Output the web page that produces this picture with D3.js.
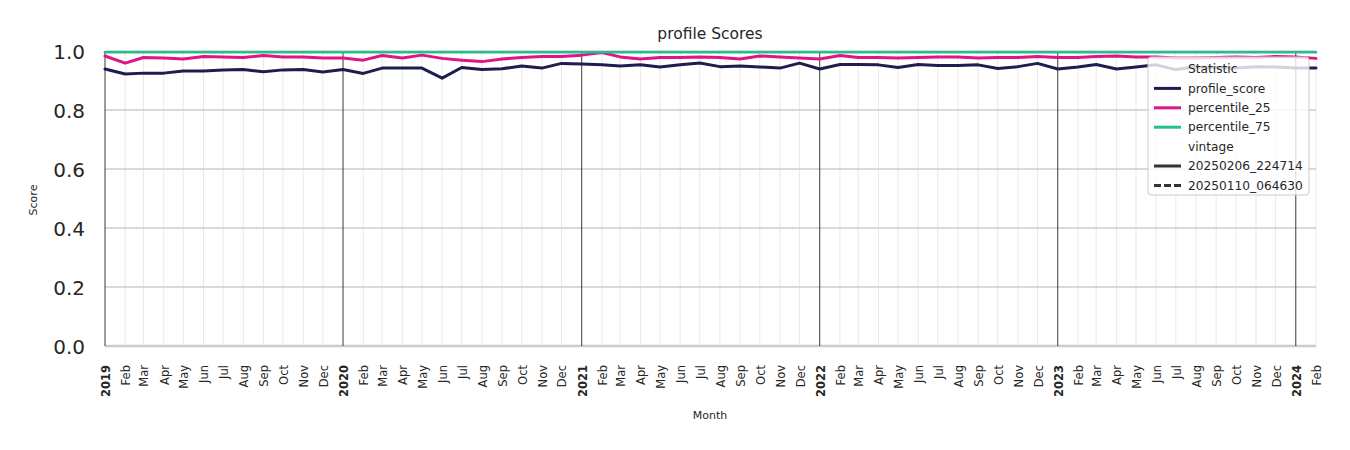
<!DOCTYPE html>
<html>
<head>
<meta charset="utf-8">
<script src="https://cdn.jsdelivr.net/npm/d3@7"></script>
<style>
  html, body { margin: 0; padding: 0; background: #fff; }
  svg { display: block; font-family: "DejaVu Sans", sans-serif; }
</style>
</head>
<body>
<svg id="chart" width="1350" height="450"></svg>
<script>
// ---- data ----
const months = [
  "2019-01","2019-02","2019-03","2019-04","2019-05","2019-06","2019-07","2019-08","2019-09","2019-10","2019-11","2019-12",
  "2020-01","2020-02","2020-03","2020-04","2020-05","2020-06","2020-07","2020-08","2020-09","2020-10","2020-11","2020-12",
  "2021-01","2021-02","2021-03","2021-04","2021-05","2021-06","2021-07","2021-08","2021-09","2021-10","2021-11","2021-12",
  "2022-01","2022-02","2022-03","2022-04","2022-05","2022-06","2022-07","2022-08","2022-09","2022-10","2022-11","2022-12",
  "2023-01","2023-02","2023-03","2023-04","2023-05","2023-06","2023-07","2023-08","2023-09","2023-10","2023-11","2023-12",
  "2024-01","2024-02"
];
const profileScore = [
  0.939,0.922,0.925,0.925,0.932,0.932,0.936,0.937,0.930,0.936,0.937,0.929,
  0.937,0.924,0.942,0.942,0.942,0.908,0.944,0.937,0.940,0.949,0.942,0.958,
  0.956,0.953,0.949,0.953,0.946,0.953,0.959,0.947,0.949,0.946,0.942,0.959,
  0.939,0.954,0.954,0.953,0.944,0.954,0.951,0.951,0.953,0.941,0.947,0.958,
  0.939,0.946,0.954,0.939,0.946,0.953,0.937,0.946,0.944,0.942,0.947,0.946,
  0.942,0.942
];
const percentile25 = [
  0.983,0.959,0.978,0.976,0.973,0.981,0.980,0.978,0.985,0.980,0.980,0.976,
  0.976,0.969,0.985,0.976,0.986,0.975,0.969,0.964,0.973,0.978,0.981,0.981,
  0.986,0.995,0.980,0.973,0.978,0.978,0.980,0.978,0.973,0.983,0.980,0.976,
  0.973,0.985,0.978,0.978,0.976,0.978,0.980,0.980,0.976,0.978,0.978,0.981,
  0.978,0.978,0.981,0.983,0.980,0.980,0.976,0.976,0.978,0.980,0.978,0.981,
  0.980,0.975
];
const percentile75 = months.map(() => 0.996);
const seriesNames = ["profile_score", "percentile_25", "percentile_75"];
const seriesColors = ["#1c1e50", "#e0148a", "#22c08c"];
const vintages = ["20250206_224714", "20250110_064630"];
const yTicks = [0.0, 0.2, 0.4, 0.6, 0.8, 1.0];
const monthAbbr = ["Jan","Feb","Mar","Apr","May","Jun","Jul","Aug","Sep","Oct","Nov","Dec"];

// ---- chart ----
const svg = d3.select("#chart");
const margin = { left: 105, right: 1316, top: 51, bottom: 346 };
const parse = d3.timeParse("%Y-%m");
const dates = months.map(parse);

const x = d3.scaleTime()
  .domain([parse("2019-01"), parse("2024-02")])
  .range([margin.left, margin.right]);
const y = d3.scaleLinear().domain([0, 1]).range([margin.bottom, margin.top]);

// monthly minor gridlines
const allMonths = d3.timeMonth.range(parse("2019-01"), d3.timeMonth.offset(parse("2024-02"), 1));
svg.append("g").selectAll("line").data(allMonths.filter(d => d.getMonth() !== 0)).join("line")
  .attr("x1", d => x(d)).attr("x2", d => x(d))
  .attr("y1", margin.top).attr("y2", margin.bottom)
  .attr("stroke", "#e3e3e3").attr("stroke-width", 0.8);

// horizontal gridlines
svg.append("g").selectAll("line").data(yTicks).join("line")
  .attr("x1", margin.left).attr("x2", margin.right)
  .attr("y1", d => y(d)).attr("y2", d => y(d))
  .attr("stroke", "#cccccc").attr("stroke-width", d => d === 0 ? 2.5 : 1.3);

// yearly major gridlines
svg.append("g").selectAll("line").data(allMonths.filter(d => d.getMonth() === 0)).join("line")
  .attr("x1", d => x(d)).attr("x2", d => x(d))
  .attr("y1", margin.top).attr("y2", margin.bottom)
  .attr("stroke", "#3a3a3a").attr("stroke-width", 1);

// y axis labels
const yAxis = d3.axisLeft(y).tickValues(yTicks).tickFormat(d3.format(".1f")).tickSize(0).tickPadding(0);
const gy = svg.append("g").attr("transform", `translate(${margin.left - 20},0)`).call(yAxis);
gy.select(".domain").remove();
gy.selectAll("text").attr("font-size", 20).attr("fill", "#262626")
  .attr("font-family", "DejaVu Sans, sans-serif").attr("dy", "0.35em");

// x axis labels
const xAxis = d3.axisBottom(x).tickValues(allMonths)
  .tickFormat(d => d.getMonth() === 0 ? String(d.getFullYear()) : monthAbbr[d.getMonth()])
  .tickSize(0).tickPadding(0);
const gx = svg.append("g").attr("transform", `translate(0,${margin.bottom})`).call(xAxis);
gx.select(".domain").remove();
gx.selectAll("text")
  .attr("font-size", 11.5).attr("fill", "#262626").attr("font-family", "DejaVu Sans, sans-serif")
  .attr("text-anchor", "end").attr("dy", 0).attr("y", 0)
  .attr("transform", "translate(4.5,19) rotate(-90)")
  .attr("font-weight", d => d.getMonth() === 0 ? "bold" : "normal");

// lines
const seriesData = [profileScore, percentile25, percentile75];
const line = d3.line().x((d, i) => x(dates[i])).y(d => y(d));
svg.append("g").selectAll("path").data(seriesData).join("path")
  .attr("d", d => line(d))
  .attr("fill", "none")
  .attr("stroke", (d, i) => seriesColors[i])
  .attr("stroke-width", (d, i) => i === 2 ? 2.5 : 3)
  .attr("stroke-linejoin", "round")
  .attr("stroke-linecap", "round");

// titles
svg.append("text").attr("x", 710).attr("y", 39).attr("text-anchor", "middle")
  .attr("font-size", 15.5).attr("fill", "#262626").text("profile Scores");
svg.append("text").attr("x", 710).attr("y", 419).attr("text-anchor", "middle")
  .attr("font-size", 11).attr("fill", "#262626").text("Month");
svg.append("text").attr("transform", "translate(37,200) rotate(-90)").attr("text-anchor", "middle")
  .attr("font-size", 11).attr("fill", "#262626").text("Score");

// legend
const lg = svg.append("g");
lg.append("rect").attr("x", 1148).attr("y", 57).attr("width", 161).attr("height", 138)
  .attr("rx", 3).attr("fill", "#ffffff").attr("fill-opacity", 0.8)
  .attr("stroke", "#cccccc").attr("stroke-width", 1);
const legendItems = [
  { label: "Statistic", header: true },
  ...seriesNames.map((n, i) => ({ label: n, color: seriesColors[i], dash: null })),
  { label: "vintage", header: true },
  { label: vintages[0], color: "#333333", dash: null },
  { label: vintages[1], color: "#333333", dash: "7,3" }
];
const rows = lg.selectAll("g").data(legendItems).join("g")
  .attr("transform", (d, i) => `translate(0,${69 + i * 19.4})`);
rows.filter(d => !d.header).append("line")
  .attr("x1", 1154).attr("x2", 1181).attr("y1", 0).attr("y2", 0)
  .attr("stroke", d => d.color).attr("stroke-width", 3)
  .attr("stroke-dasharray", d => d.dash);
rows.append("text").attr("x", 1188).attr("y", 0).attr("dy", "0.35em")
  .attr("font-size", 12.2).attr("fill", "#262626").text(d => d.label);
</script>
</body>
</html>
